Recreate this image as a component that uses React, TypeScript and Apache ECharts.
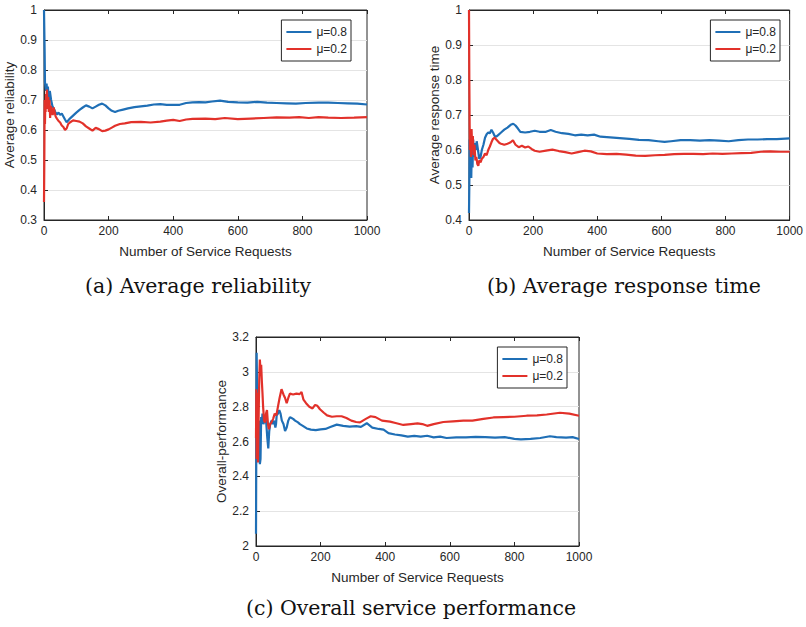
import React, { useEffect, useRef } from "react";
import * as echarts from "echarts";

// ---------- data ----------
const seriesNames = ["μ=0.8", "μ=0.2"];
const captions = ["(a) Average reliability", "(b) Average response time", "(c) Overall service performance"];
const yTitles = ["Average reliability", "Average response time", "Overall-performance"];
const xTitle = "Number of Service Requests";

// (a) Average reliability
const relX08 = [0, 1, 2, 3, 4, 6, 8, 10, 12, 15, 18, 22, 26, 30, 35, 40, 45, 50, 55, 60, 65, 70, 75, 80, 90, 100, 110, 120, 130, 140, 150, 160, 170, 180, 190, 200, 210, 220, 230, 245, 260, 280, 300, 320, 340, 360, 380, 400, 420, 440, 460, 480, 500, 520, 545, 570, 600, 630, 660, 690, 720, 750, 780, 810, 850, 880, 910, 940, 970, 1000];
const relY08 = [1.0, 1.0, 0.86, 0.76, 0.75, 0.73, 0.755, 0.72, 0.745, 0.70, 0.73, 0.70, 0.68, 0.672, 0.66, 0.652, 0.658, 0.65, 0.655, 0.645, 0.635, 0.626, 0.632, 0.638, 0.648, 0.658, 0.667, 0.675, 0.682, 0.678, 0.672, 0.678, 0.684, 0.688, 0.682, 0.672, 0.664, 0.660, 0.664, 0.668, 0.672, 0.676, 0.679, 0.681, 0.685, 0.686, 0.684, 0.684, 0.684, 0.690, 0.692, 0.693, 0.692, 0.695, 0.698, 0.694, 0.692, 0.691, 0.694, 0.691, 0.690, 0.689, 0.688, 0.690, 0.691, 0.691, 0.690, 0.689, 0.688, 0.685];
const relX02 = [0, 1, 2, 3, 4, 5, 6, 7, 9, 11, 13, 15, 17, 19, 21, 24, 27, 30, 33, 36, 40, 45, 50, 55, 60, 65, 70, 75, 80, 90, 100, 110, 120, 130, 140, 150, 160, 170, 180, 190, 200, 210, 220, 235, 250, 270, 300, 330, 360, 380, 400, 420, 440, 460, 500, 530, 560, 600, 640, 680, 720, 760, 790, 820, 850, 880, 920, 960, 1000];
const relY02 = [0.36, 0.50, 0.70, 0.62, 0.69, 0.66, 0.72, 0.68, 0.735, 0.67, 0.71, 0.66, 0.70, 0.64, 0.68, 0.66, 0.65, 0.675, 0.66, 0.645, 0.638, 0.63, 0.625, 0.615, 0.61, 0.60, 0.605, 0.62, 0.625, 0.632, 0.63, 0.628, 0.622, 0.612, 0.605, 0.598, 0.607, 0.603, 0.596, 0.598, 0.602, 0.608, 0.614, 0.62, 0.622, 0.626, 0.627, 0.625, 0.628, 0.631, 0.634, 0.630, 0.635, 0.637, 0.638, 0.636, 0.640, 0.636, 0.638, 0.640, 0.642, 0.641, 0.643, 0.640, 0.643, 0.641, 0.640, 0.641, 0.643];

// (b) Average response time
const rtX08 = [0, 1, 2, 3, 5, 7, 9, 11, 13, 15, 18, 21, 24, 28, 32, 36, 40, 45, 50, 55, 60, 65, 70, 75, 80, 85, 90, 100, 110, 120, 130, 138, 145, 152, 160, 175, 190, 205, 220, 240, 255, 270, 290, 310, 330, 350, 370, 390, 410, 440, 470, 500, 530, 560, 590, 610, 630, 660, 690, 720, 750, 780, 810, 840, 870, 900, 930, 960, 1000];
const rtY08 = [0.42, 0.50, 0.63, 0.56, 0.60, 0.52, 0.62, 0.55, 0.63, 0.58, 0.62, 0.60, 0.625, 0.60, 0.575, 0.58, 0.60, 0.615, 0.635, 0.645, 0.65, 0.648, 0.658, 0.65, 0.64, 0.638, 0.642, 0.65, 0.658, 0.664, 0.672, 0.675, 0.67, 0.662, 0.652, 0.65, 0.652, 0.655, 0.652, 0.652, 0.657, 0.652, 0.648, 0.646, 0.642, 0.644, 0.642, 0.644, 0.638, 0.636, 0.634, 0.632, 0.629, 0.628, 0.625, 0.623, 0.625, 0.628, 0.628, 0.627, 0.628, 0.627, 0.625, 0.628, 0.630, 0.630, 0.631, 0.631, 0.633];
const rtX02 = [0, 1, 2, 3, 4, 6, 8, 10, 12, 14, 17, 20, 23, 26, 29, 32, 36, 40, 45, 50, 55, 60, 65, 70, 75, 80, 85, 90, 95, 100, 110, 120, 130, 137, 145, 155, 165, 175, 185, 195, 205, 220, 240, 260, 280, 300, 320, 340, 360, 380, 400, 430, 460, 490, 520, 550, 580, 610, 640, 670, 700, 730, 760, 790, 820, 850, 880, 910, 940, 970, 1000];
const rtY02 = [1.0, 0.80, 0.67, 0.60, 0.655, 0.58, 0.66, 0.60, 0.64, 0.585, 0.615, 0.57, 0.58, 0.56, 0.555, 0.57, 0.565, 0.575, 0.58, 0.59, 0.585, 0.60, 0.61, 0.622, 0.632, 0.635, 0.63, 0.625, 0.62, 0.618, 0.615, 0.618, 0.622, 0.628, 0.615, 0.608, 0.612, 0.607, 0.61, 0.603, 0.598, 0.595, 0.598, 0.601, 0.597, 0.594, 0.59, 0.594, 0.598, 0.596, 0.59, 0.588, 0.589, 0.587, 0.584, 0.583, 0.585, 0.586, 0.588, 0.589, 0.589, 0.588, 0.59, 0.589, 0.59, 0.591, 0.592, 0.595, 0.596, 0.595, 0.595];

// (c) Overall performance
const opX08 = [0, 1, 2, 3, 4, 6, 8, 10, 12, 14, 16, 18, 20, 23, 26, 29, 32, 35, 38, 41, 44, 48, 52, 56, 60, 62, 64, 68, 72, 76, 80, 85, 90, 95, 100, 105, 110, 115, 121, 130, 136, 145, 157, 170, 185, 200, 215, 230, 250, 270, 290, 310, 325, 343, 360, 380, 395, 410, 430, 450, 470, 490, 510, 530, 550, 570, 590, 620, 650, 680, 710, 740, 770, 800, 820, 850, 880, 910, 930, 960, 980, 1000];
const opY08 = [2.07, 2.6, 3.11, 2.95, 2.70, 2.74, 2.52, 2.72, 2.47, 2.50, 2.74, 2.70, 2.76, 2.70, 2.72, 2.74, 2.70, 2.62, 2.56, 2.66, 2.70, 2.72, 2.70, 2.72, 2.68, 2.70, 2.75, 2.76, 2.78, 2.76, 2.72, 2.70, 2.66, 2.68, 2.72, 2.74, 2.735, 2.73, 2.72, 2.71, 2.70, 2.69, 2.675, 2.668, 2.665, 2.67, 2.672, 2.683, 2.697, 2.69, 2.685, 2.688, 2.684, 2.705, 2.68, 2.672, 2.668, 2.648, 2.64, 2.635, 2.628, 2.632, 2.628, 2.633, 2.624, 2.628, 2.62, 2.624, 2.624, 2.627, 2.625, 2.622, 2.625, 2.615, 2.612, 2.615, 2.62, 2.63, 2.625, 2.622, 2.625, 2.614];
const opX02 = [0, 1, 2, 3, 4, 6, 8, 10, 12, 14, 16, 18, 20, 22, 25, 28, 31, 34, 37, 40, 44, 48, 53, 58, 63, 68, 73, 79, 85, 90, 95, 100, 105, 115, 125, 135, 141, 147, 155, 165, 175, 183, 190, 198, 210, 220, 235, 250, 265, 280, 295, 310, 322, 340, 355, 370, 390, 415, 435, 456, 480, 500, 515, 530, 550, 580, 610, 642, 670, 704, 735, 766, 800, 838, 870, 900, 941, 970, 1000];
const opY02 = [2.62, 2.90, 2.50, 2.70, 2.88, 2.48, 2.72, 2.95, 3.07, 3.00, 3.04, 2.95, 2.88, 2.80, 2.72, 2.71, 2.76, 2.78, 2.70, 2.67, 2.70, 2.71, 2.73, 2.76, 2.75, 2.80, 2.85, 2.90, 2.87, 2.85, 2.82, 2.85, 2.875, 2.87, 2.875, 2.872, 2.884, 2.84, 2.82, 2.80, 2.79, 2.81, 2.805, 2.785, 2.765, 2.75, 2.742, 2.745, 2.745, 2.735, 2.72, 2.712, 2.71, 2.73, 2.745, 2.74, 2.72, 2.714, 2.705, 2.695, 2.70, 2.704, 2.70, 2.69, 2.70, 2.712, 2.716, 2.72, 2.72, 2.73, 2.738, 2.74, 2.742, 2.748, 2.75, 2.755, 2.765, 2.76, 2.748];

const yRanges = [
  { min: 0.3, max: 1, interval: 0.1 },
  { min: 0.4, max: 1, interval: 0.1 },
  { min: 2, max: 3.2, interval: 0.2 },
];

const BLUE = "#1f6fb6";
const RED = "#e2312a";
const AX = "#262626";
const FONT = "'Liberation Sans', Arial, sans-serif";

function zip(xs: number[], ys: number[]) {
  return xs.map((x, i) => [x, ys[i]]);
}

export default function App() {
  const ref = useRef<HTMLDivElement>(null);
  useEffect(() => {
    if (!ref.current) return;
    const chart = echarts.init(ref.current, undefined, { renderer: "svg" });
    const grids = [
      { left: 44, top: 10, width: 323, height: 210 },
      { left: 469, top: 10, width: 322, height: 210 },
      { left: 256, top: 337, width: 323, height: 209 },
    ];
    const legendRights = [455, 26, 239];
    const legendTops = [20, 20, 347];
    const captionPos = [
      [198, 286],
      [624, 286],
      [411, 608],
    ];
    const xAxes: any[] = [];
    const yAxes: any[] = [];
    grids.forEach((_, i) => {
      xAxes.push({
        type: "value",
        gridIndex: i,
        min: 0,
        max: 1000,
        interval: 200,
        name: xTitle,
        nameLocation: "middle",
        nameGap: 24,
        nameTextStyle: { fontSize: 13.5, color: AX, fontFamily: FONT },
        axisLine: { show: true, lineStyle: { color: AX, width: 1 } },
        axisTick: { show: true, inside: true, length: 4, lineStyle: { color: AX } },
        axisLabel: { fontSize: 12, color: AX, fontFamily: FONT, margin: 5, formatter: (v: number) => String(v) },
        splitLine: { show: false },
      });
    });
    grids.forEach((_, i) => {
      xAxes.push({
        type: "value",
        gridIndex: i,
        position: "top",
        min: 0,
        max: 1000,
        interval: 200,
        axisLine: { show: true, lineStyle: { color: AX, width: 1 } },
        axisTick: { show: true, inside: true, length: 4, lineStyle: { color: AX } },
        axisLabel: { show: false },
        splitLine: { show: false },
      });
    });
    grids.forEach((_, i) => {
      yAxes.push({
        type: "value",
        gridIndex: i,
        min: yRanges[i].min,
        max: yRanges[i].max,
        interval: yRanges[i].interval,
        name: yTitles[i],
        nameLocation: "middle",
        nameGap: 26,
        nameTextStyle: { fontSize: 13.5, color: AX, fontFamily: FONT },
        axisLine: { show: true, lineStyle: { color: AX, width: 1 } },
        axisTick: { show: true, inside: true, length: 4, lineStyle: { color: AX } },
        axisLabel: { fontSize: 12, color: AX, fontFamily: FONT, margin: 7 },
        splitLine: { show: true, lineStyle: { color: "#e4e4e4", width: 1 } },
      });
    });
    const data = [
      [zip(relX08, relY08), zip(relX02, relY02)],
      [zip(rtX08, rtY08), zip(rtX02, rtY02)],
      [zip(opX08, opY08), zip(opX02, opY02)],
    ];
    const series: any[] = [];
    data.forEach((pair, i) => {
      pair.forEach((d, k) => {
        series.push({
          type: "line",
          name: seriesNames[k],
          xAxisIndex: i,
          yAxisIndex: i,
          data: d,
          showSymbol: false,
          symbol: "none",
          lineStyle: { width: 2.2, color: k === 0 ? BLUE : RED },
          itemStyle: { color: k === 0 ? BLUE : RED },
          z: 2 + k,
        });
      });
    });
    const legends = grids.map((_, i) => ({
      orient: "vertical",
      right: legendRights[i],
      top: legendTops[i],
      data: seriesNames,
      icon: "rect",
      itemWidth: 25,
      itemHeight: 2,
      itemGap: 5,
      padding: [6, 4, 6, 5],
      borderColor: AX,
      borderWidth: 1,
      backgroundColor: "#ffffff",
      textStyle: { fontSize: 12, color: AX, fontFamily: FONT, lineHeight: 12 },
      selectedMode: false,
      z: 10,
    }));
    const graphic = captions.map((c, i) => ({
      type: "text",
      x: captionPos[i][0],
      y: captionPos[i][1],
      style: {
        text: c,
        fontSize: 20.5,
        fontFamily: "'DejaVu Serif', serif",
        fill: "#111",
        align: "center",
        verticalAlign: "middle",
      },
    }));
    chart.setOption({
      animation: false,
      backgroundColor: "#ffffff",
      grid: grids.map((g) => ({ ...g, show: true, borderColor: AX, borderWidth: 1, backgroundColor: "transparent" })),
      xAxis: xAxes,
      yAxis: yAxes,
      legend: legends,
      series,
      graphic,
    });
    return () => chart.dispose();
  }, []);
  return (
    <div
      ref={ref}
      style={{ position: "absolute", left: 0, top: 0, width: 806, height: 627, background: "#fff" }}
    />
  );
}
